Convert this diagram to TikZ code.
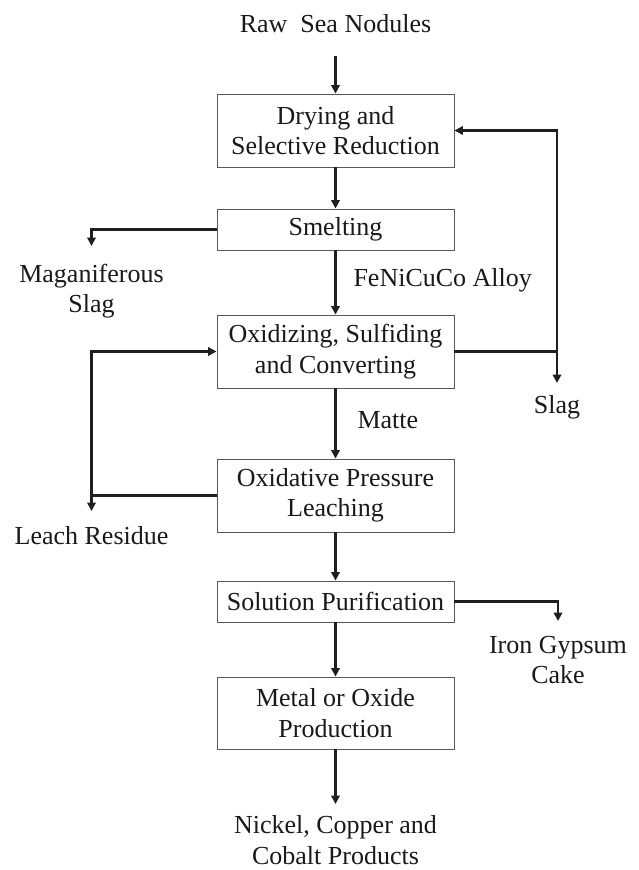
\documentclass[tikz,border=0pt]{standalone}
\usepackage{fontspec}
\setmainfont{Liberation Serif}
\usetikzlibrary{arrows.meta}
\begin{document}
\begin{tikzpicture}[x=1pt,y=-1pt,
  every node/.style={font=\fontsize{26}{30.5}\selectfont, text=black!90, align=center},
  proc/.style={draw=black!65, line width=0.9pt, minimum width=237pt, inner sep=0pt},
  flow/.style={line width=2.1pt, draw=black!88, -{Triangle[length=8.5pt,width=8.5pt]}},
  link/.style={line width=2.1pt, draw=black!88}]
\useasboundingbox (0,0) rectangle (638,870);
% text and process nodes
\node (raw) at (335.5,24) {Raw\ \ Sea Nodules};
\node[proc, minimum height=73pt] (b1) at (335.5,130.5) {Drying and\\Selective Reduction};
\node[proc, minimum height=41pt] (b2) at (335.5,229.5) {Smelting};
\node[proc, minimum height=73pt] (b3) at (335.5,351.5) {Oxidizing, Sulfiding\\and Converting};
\node[proc, minimum height=73pt] (b4) at (335.5,495.5) {Oxidative Pressure\\Leaching};
\node[proc, minimum height=41pt] (b5) at (335.5,601.5) {Solution Purification};
\node[proc, minimum height=72pt] (b6) at (335.5,713) {Metal or Oxide\\Production};
\node (prod) at (335.5,840) {Nickel, Copper and\\Cobalt Products};
\node (mslag) at (91.5,291) {Maganiferous\\Slag};
\node[anchor=west] (alloy) at (350,280) {FeNiCuCo Alloy};
\node[anchor=west] (matte) at (354,420) {Matte};
\node (lres) at (91.5,536) {Leach Residue};
\node (slag) at (557,407) {Slag};
\node (gyp) at (558,660) {Iron Gypsum\\Cake};
% coordinates
\coordinate (a0) at (335.5,56);
\coordinate (a7) at (335.5,804);
\coordinate (m1) at (91.5,246);
\coordinate (lj) at (91.5,495.5);
\coordinate (l1) at (91.5,511);
\coordinate (sj) at (557,351.5);
\coordinate (s1) at (557,383);
\coordinate (g1) at (558,621);
% main flow
\draw[flow] (a0) -- (b1.north);
\draw[flow] (b1) -- (b2);
\draw[flow] (b2) -- (b3);
\draw[flow] (b3) -- (b4);
\draw[flow] (b4) -- (b5);
\draw[flow] (b5) -- (b6);
\draw[flow] (b6) -- (a7);
% side streams
\draw[flow] (b2.west) -| (m1);
\draw[link] (b4.west) -- (lj);
\draw[flow] (lj) -- (l1);
\draw[flow] (lj) |- (b3.west);
\draw[link] (b3.east) -- (sj);
\draw[flow] (sj) -- (s1);
\draw[flow] (sj) |- (b1.east);
\draw[flow] (b5.east) -| (g1);
\end{tikzpicture}
\end{document}
